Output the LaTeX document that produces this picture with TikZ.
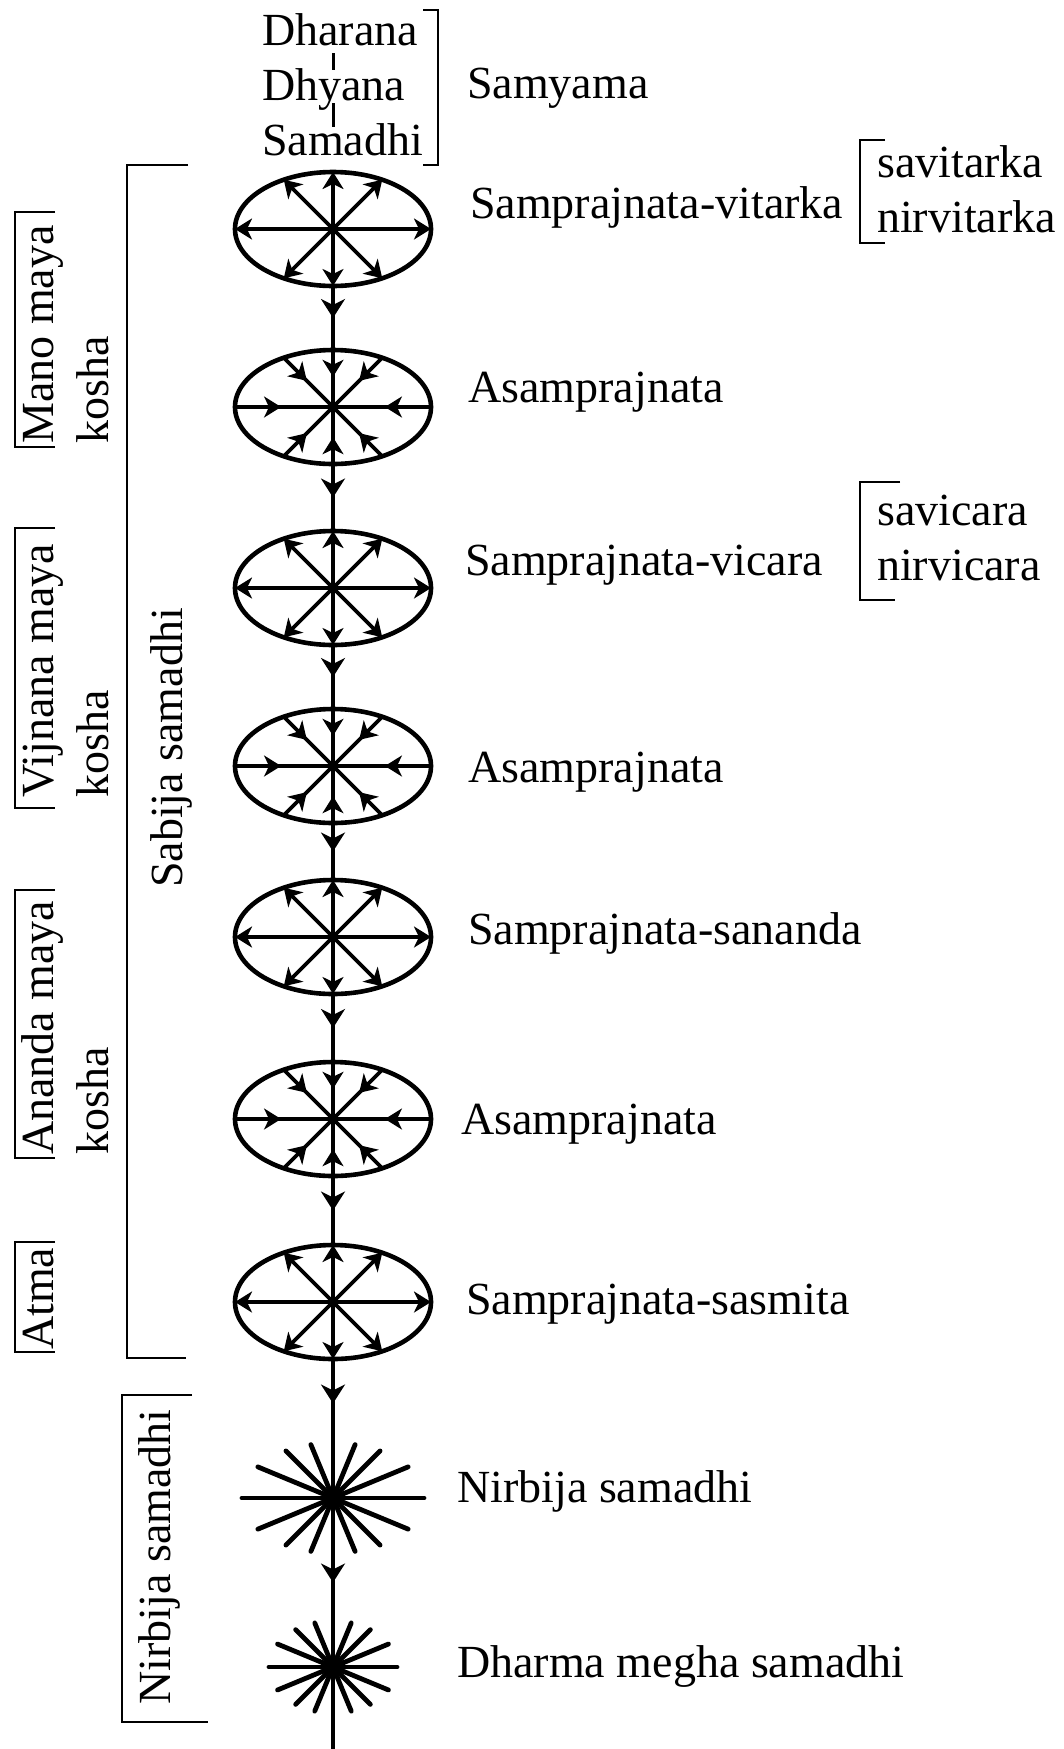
\documentclass[tikz,border=0pt]{standalone}
\usepackage{fontspec}
\setmainfont{Liberation Serif}
\usetikzlibrary{arrows.meta,shapes.geometric,decorations.markings,calc}

\tikzset{
 AxTip/.tip={Stealth[length=19pt,width=24pt,inset=6pt]},
 RayTip/.tip={Stealth[length=17pt,width=21pt,inset=5pt]},
 glyph/.style={ellipse,draw,line width=4.6pt,minimum width=196pt,minimum height=114pt,inner sep=0pt,outer sep=0pt},
 ray/.style={line width=3.8pt},
 outray/.style={ray,-RayTip},
 inray/.style={ray,postaction={decorate,decoration={markings,mark=at position 0.47 with {\arrow{RayTip}}}}},
 axisline/.style={line width=3.8pt},
 midarrow/.style={axisline,postaction={decorate,decoration={markings,mark=at position #1 with {\arrow{AxTip}}}}},
 midarrow/.default=0.5,
 starray/.style={line width=4.8pt,line cap=round},
 lbl/.style={font=\fontsize{46}{55}\selectfont,inner sep=0pt,anchor=base west},
 rlbl/.style={lbl,rotate=90,align=left},
 brk/.style={line width=2.8pt},
}

\newcommand\OutGlyph[2]{%
  \node[glyph] (#1) at #2 {};
  \foreach \a in {0,45,...,315} \draw[outray] (#1.center) -- (#1.\a);}
\newcommand\InGlyph[2]{%
  \node[glyph] (#1) at #2 {};
  \foreach \a in {0,45,...,315} \draw[inray] (#1.\a) -- (#1.center);}
\newcommand\StarGlyph[4]{%
  \coordinate (#1) at #2;
  \foreach \a in {0,22.5,...,157.5}{%
    \pgfmathsetmacro\rr{#3*#4/sqrt((#4*cos(\a))^2+(#3*sin(\a))^2)}
    \draw[starray] ($(#1)+(\a:\rr)$) -- ($(#1)+(\a+180:\rr)$);}}

\begin{document}
\begin{tikzpicture}[x=1pt,y=-1pt]
\useasboundingbox (0,0) rectangle (1064,1749);

% glyphs on the axis
\OutGlyph{e1}{(333,229)}
\InGlyph{e2}{(333,407)}
\OutGlyph{e3}{(333,588)}
\InGlyph{e4}{(333,766)}
\OutGlyph{e5}{(333,937)}
\InGlyph{e6}{(333,1119)}
\OutGlyph{e7}{(333,1302)}
\StarGlyph{s1}{(333,1498)}{91}{55}
\StarGlyph{s2}{(333,1667)}{64}{46}
\coordinate (bottom) at (333,1749);

% axis connectors
\draw[midarrow] (e1.south) -- (e2.north);
\draw[midarrow] (e2.south) -- (e3.north);
\draw[midarrow] (e3.south) -- (e4.north);
\draw[midarrow] (e4.south) -- (e5.north);
\draw[midarrow] (e5.south) -- (e6.north);
\draw[midarrow] (e6.south) -- (e7.north);
\draw[midarrow=0.32] (e7.south) -- (s1);
\draw[midarrow=0.5] (s1) -- (s2);
\draw[axisline] (s2) -- (bottom);

% top: Samyama
\node[lbl] (dharana) at (262,45) {Dharana};
\node[lbl] (dhyana) at (262,100) {Dhyana};
\node[lbl] (samadhi) at (262,155) {Samadhi};
\draw[line width=3pt] ($(dharana.base -| e1)+(0,8)$) -- ($(dhyana.north -| e1)+(0,2)$);
\draw[line width=3pt] ($(dhyana.base -| e1)+(0,3)$) -- ($(samadhi.north -| e1)+(0,4)$);
\draw[brk] (423,10) -- (438,10) -- (438,165) -- (423,165);
\node[lbl] (samyama) at (467,98) {Samyama};

% right labels
\node[lbl] (l1) at (470,218) {Samprajnata-vitarka};
\node[lbl] (savitarka) at (877,177) {savitarka};
\node[lbl] (nirvitarka) at (877,232) {nirvitarka};
\draw[brk] (885,140) -- (860,140) -- (860,243) -- (885,243);
\node[lbl] (l2) at (468,402) {Asamprajnata};
\node[lbl] (l3) at (465,575) {Samprajnata-vicara};
\node[lbl] (savicara) at (877,525) {savicara};
\node[lbl] (nirvicara) at (877,580) {nirvicara};
\draw[brk] (900,482) -- (860,482) -- (860,600) -- (895,600);
\node[lbl] (l4) at (468,782) {Asamprajnata};
\node[lbl] (l5) at (468,944) {Samprajnata-sananda};
\node[lbl] (l6) at (461,1134) {Asamprajnata};
\node[lbl] (l7) at (466,1314) {Samprajnata-sasmita};
\node[lbl] (l8) at (457,1502) {Nirbija samadhi};
\node[lbl] (l9) at (457,1677) {Dharma megha samadhi};

% left brackets
\draw[brk] (55,212) -- (15,212) -- (15,447) -- (55,447);
\node[rlbl] (mano) at (108,444) {Mano maya\\kosha};
\draw[brk] (55,528) -- (15,528) -- (15,808) -- (55,808);
\node[rlbl] (vijnana) at (108,798) {Vijnana maya\\kosha};
\draw[brk] (55,890) -- (15,890) -- (15,1158) -- (55,1158);
\node[rlbl] (ananda) at (108,1155) {Ananda maya\\kosha};
\draw[brk] (55,1242) -- (15,1242) -- (15,1352) -- (55,1352);
\node[rlbl] (atma) at (53,1350) {Atma};
\draw[brk] (188,165) -- (127,165) -- (127,1358) -- (186,1358);
\node[lbl,rotate=90,anchor=base] (sabija) at (182,748) {Sabija samadhi};
\draw[brk] (192,1395) -- (122,1395) -- (122,1722) -- (208,1722);
\node[lbl,rotate=90,anchor=base] (nirbija) at (170,1557) {Nirbija samadhi};
\end{tikzpicture}
\end{document}
